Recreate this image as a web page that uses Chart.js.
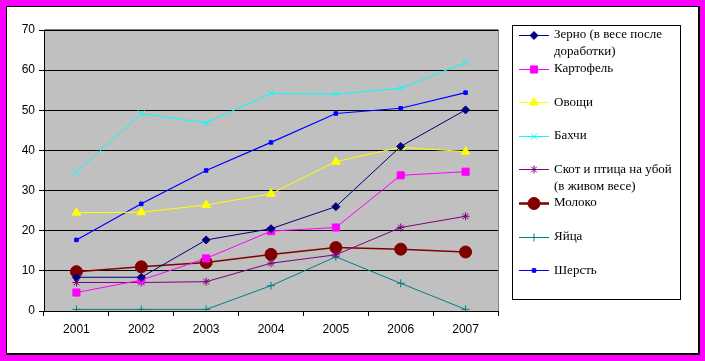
<!DOCTYPE html>
<html>
<head>
<meta charset="utf-8">
<script src="https://cdn.jsdelivr.net/npm/chart.js@4/dist/chart.umd.min.js"></script>
<style>
  html, body { margin: 0; padding: 0; }
  body { width: 705px; height: 361px; background: #ff00ff; position: relative; overflow: hidden; }
  #frame { position: absolute; left: 6px; top: 6px; width: 691px; height: 346px;
           background: #fff; border-left: 1px solid #000; border-top: 1px solid #000;
           border-right: 2px solid #000; border-bottom: 2px solid #000; }
  #chart { position: absolute; left: 0; top: 0; }
</style>
</head>
<body>
<div id="frame"></div>
<canvas id="chart" width="705" height="361"></canvas>
<script>
// data
const years = ['2001', '2002', '2003', '2004', '2005', '2006', '2007'];
const yTicks = [0, 10, 20, 30, 40, 50, 60, 70];

const zerno     = [8.4, 8.4, 17.7, 20.5, 26.0, 41.0, 50.1];
const kartofel  = [4.6, 7.7, 13.1, 19.9, 20.8, 33.8, 34.7];
const ovoshi    = [24.5, 24.6, 26.4, 29.2, 37.2, 40.8, 39.7];
const bakhchi   = [34.5, 49.2, 46.9, 54.2, 54.0, 55.5, 61.9];
const skot      = [7.1, 7.1, 7.3, 11.9, 14.0, 20.8, 23.6];
const moloko    = [9.8, 11.0, 12.1, 14.1, 15.8, 15.4, 14.7];
const yaytsa    = [0.4, 0.4, 0.4, 6.3, 13.5, 6.9, 0.4];
const sherst    = [17.7, 26.7, 35.0, 42.0, 49.2, 50.5, 54.4];

const legendLines = [
  ['Зерно (в весе после', 'доработки)'],
  ['Картофель'],
  ['Овощи'],
  ['Бахчи'],
  ['Скот и птица на убой', '(в живом весе)'],
  ['Молоко'],
  ['Яйца'],
  ['Шерсть']
];

function ds(i, data, color, style, radius, width) {
  return {
    label: legendLines[i].join(' '),
    data: data,
    borderColor: color,
    backgroundColor: color,
    pointBackgroundColor: color,
    pointBorderColor: color,
    pointStyle: style,
    pointRadius: radius,
    pointBorderWidth: 1,
    borderWidth: width || 1,
    tension: 0
  };
}

const datasets = [
  ds(0, zerno, '#000080', 'rectRot', 4),
  ds(1, kartofel, '#ff00ff', 'rect', 5),
  ds(2, ovoshi, '#ffff00', 'triangle', 5),
  ds(3, bakhchi, '#00ffff', 'crossRot', 4.5),
  ds(4, skot, '#800080', 'star', 4),
  ds(5, moloko, '#800000', 'circle', 6, 1.5),
  ds(6, yaytsa, '#008080', 'cross', 4),
  ds(7, sherst, '#0000ff', 'rect', 2.5, 1.2)
];

// gray plot area + its border, like the spreadsheet look
const plotBg = {
  id: 'plotBg',
  beforeDraw(chart) {
    const a = chart.chartArea, ctx = chart.ctx;
    ctx.save();
    ctx.fillStyle = '#c0c0c0';
    ctx.fillRect(a.left, a.top, a.right - a.left, a.bottom - a.top);
    ctx.restore();
  },
  afterDraw(chart) {
    const a = chart.chartArea, ctx = chart.ctx;
    ctx.save();
    ctx.strokeStyle = '#808080';
    ctx.lineWidth = 1;
    ctx.beginPath();
    ctx.moveTo(a.left, a.top - 0.5);
    ctx.lineTo(a.right + 0.5, a.top - 0.5);
    ctx.lineTo(a.right + 0.5, a.bottom);
    ctx.stroke();
    ctx.restore();
  }
};

// boxed legend on the right with wrapped labels
const boxLegend = {
  id: 'boxLegend',
  afterDraw(chart) {
    const ctx = chart.ctx;
    const x0 = 512, y0 = 25, w = 168, h = 274;
    ctx.save();
    ctx.fillStyle = '#fff';
    ctx.fillRect(x0, y0, w, h);
    ctx.strokeStyle = '#000';
    ctx.lineWidth = 1;
    ctx.strokeRect(x0 + 0.5, y0 + 0.5, w, h);
    ctx.font = '13px "Liberation Serif", "Times New Roman", serif';
    ctx.textBaseline = 'middle';
    chart.data.datasets.forEach((d, i) => {
      const yc = 35 + i * 33.6;
      ctx.strokeStyle = d.borderColor;
      ctx.lineWidth = i === 5 ? 2.5 : 1;
      ctx.beginPath();
      ctx.moveTo(519, Math.round(yc) + 0.5);
      ctx.lineTo(549, Math.round(yc) + 0.5);
      ctx.stroke();
      ctx.fillStyle = d.borderColor;
      ctx.lineWidth = 1;
      Chart.helpers.drawPoint(ctx, {
        pointStyle: d.pointStyle, radius: d.pointRadius, rotation: 0, borderWidth: 1
      }, 534, Math.round(yc) + 0.5);
      ctx.fillStyle = '#000';
      legendLines[i].forEach((t, k) => ctx.fillText(t, 554, yc + k * 17));
    });
    ctx.restore();
  }
};

new Chart(document.getElementById('chart'), {
  type: 'line',
  data: { labels: years, datasets: datasets },
  plugins: [plotBg, boxLegend],
  options: {
    responsive: false,
    devicePixelRatio: 1,
    animation: false,
    layout: { padding: { left: 0, top: 30, right: 207, bottom: 0 } },
    plugins: { legend: { display: false }, tooltip: { enabled: false } },
    scales: {
      x: {
        offset: true,
        afterFit: s => { s.height = 50; },
        grid: { offset: true, drawOnChartArea: false, drawTicks: true, tickLength: 5, tickColor: '#000' },
        border: { color: '#000', width: 1 },
        ticks: { color: '#000', padding: 6, maxRotation: 0,
                 font: { family: '"Liberation Sans", Arial, sans-serif', size: 12 } }
      },
      y: {
        min: 0, max: 70,
        afterFit: s => { s.width = 44; },
        afterBuildTicks: s => { s.ticks = yTicks.map(v => ({ value: v })); },
        grid: { color: '#000', tickColor: '#000', tickLength: 5, lineWidth: 1 },
        border: { color: '#000', width: 1 },
        ticks: { color: '#000', padding: 4,
                 font: { family: '"Liberation Sans", Arial, sans-serif', size: 12 } }
      }
    }
  }
});
</script>
</body>
</html>
